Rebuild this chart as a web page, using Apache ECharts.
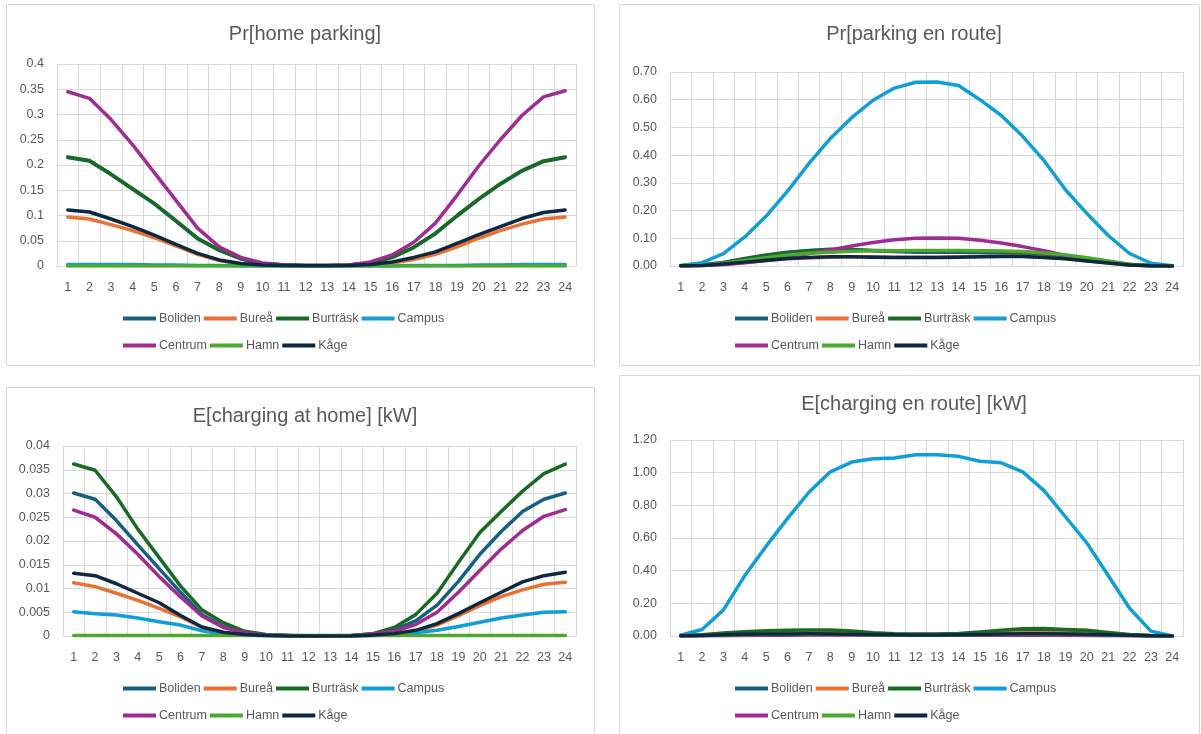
<!DOCTYPE html>
<html>
<head>
<meta charset="utf-8">
<script src="https://cdn.jsdelivr.net/npm/echarts@6/dist/echarts.min.js"></script>
<style>
  html, body { margin: 0; padding: 0; background: #fff; }
  #chart { width: 1201px; height: 734px; }
</style>
</head>
<body>
<div id="chart"></div>
<script>
// Hours of the day
const hours = ['1','2','3','4','5','6','7','8','9','10','11','12','13','14','15','16','17','18','19','20','21','22','23','24'];
const areas = ['Boliden', 'Bureå', 'Burträsk', 'Campus', 'Centrum', 'Hamn', 'Kåge'];

// Pr[home parking]
const homeParking = {
  'Boliden':  [0.215,0.208,0.181,0.152,0.123,0.089,0.054,0.031,0.014,0.005,0.002,0.001,0.001,0.002,0.006,0.017,0.037,0.064,0.099,0.132,0.162,0.188,0.207,0.215],
  'Bureå':    [0.097,0.093,0.082,0.070,0.056,0.040,0.023,0.011,0.004,0.002,0.001,0.0005,0.0005,0.001,0.002,0.006,0.013,0.023,0.038,0.055,0.070,0.083,0.093,0.097],
  'Burträsk': [0.216,0.209,0.182,0.153,0.124,0.090,0.055,0.032,0.015,0.005,0.002,0.001,0.001,0.002,0.006,0.017,0.037,0.065,0.100,0.133,0.163,0.189,0.208,0.216],
  'Campus':   [0.003,0.003,0.003,0.003,0.002,0.002,0.001,0.001,0,0,0,0,0,0,0,0,0.001,0.001,0.001,0.002,0.002,0.003,0.003,0.003],
  'Centrum':  [0.345,0.332,0.290,0.240,0.185,0.130,0.075,0.038,0.017,0.006,0.002,0.001,0.001,0.002,0.008,0.022,0.047,0.085,0.140,0.198,0.250,0.298,0.335,0.347],
  'Hamn':     [0,0,0,0,0,0,0,0,0,0,0,0,0,0,0,0,0,0,0,0,0,0,0,0],
  'Kåge':     [0.111,0.107,0.093,0.078,0.061,0.043,0.025,0.012,0.005,0.002,0.001,0.0005,0.0005,0.001,0.003,0.008,0.017,0.028,0.045,0.062,0.078,0.094,0.106,0.111]
};

// Pr[parking en route]
const routeParking = {
  'Boliden':  [0.001,0.004,0.013,0.027,0.040,0.050,0.056,0.060,0.060,0.055,0.052,0.050,0.050,0.050,0.049,0.047,0.045,0.040,0.034,0.025,0.014,0.005,0.001,0],
  'Bureå':    [0.001,0.002,0.006,0.013,0.020,0.026,0.030,0.032,0.033,0.033,0.032,0.032,0.032,0.033,0.034,0.035,0.035,0.032,0.027,0.019,0.011,0.004,0.001,0],
  'Burträsk': [0.001,0.004,0.012,0.025,0.038,0.048,0.055,0.058,0.058,0.056,0.055,0.055,0.055,0.055,0.053,0.052,0.050,0.045,0.038,0.028,0.016,0.005,0.001,0],
  'Campus':   [0.002,0.012,0.045,0.105,0.180,0.270,0.370,0.460,0.535,0.598,0.642,0.663,0.664,0.651,0.600,0.543,0.468,0.380,0.275,0.190,0.110,0.045,0.010,0.001],
  'Centrum':  [0.001,0.002,0.005,0.012,0.020,0.030,0.045,0.058,0.072,0.085,0.095,0.100,0.101,0.100,0.093,0.083,0.070,0.055,0.038,0.025,0.013,0.004,0.001,0],
  'Hamn':     [0.001,0.003,0.010,0.020,0.030,0.040,0.046,0.050,0.053,0.055,0.055,0.056,0.056,0.056,0.055,0.054,0.052,0.047,0.040,0.030,0.018,0.006,0.001,0],
  'Kåge':     [0.001,0.002,0.007,0.014,0.021,0.027,0.031,0.033,0.033,0.032,0.031,0.031,0.031,0.032,0.033,0.034,0.034,0.031,0.026,0.018,0.011,0.004,0.001,0]
};

// E[charging at home] [kW]
const homeCharging = {
  'Boliden':  [0.0301,0.0288,0.0243,0.0192,0.0142,0.0092,0.0045,0.0020,0.0008,0.0002,0.0001,0,0,0.0001,0.0004,0.0013,0.0032,0.0065,0.0115,0.0172,0.0220,0.0262,0.0288,0.0301],
  'Bureå':    [0.0112,0.0104,0.0090,0.0075,0.0058,0.0040,0.0018,0.0007,0.0002,0.0001,0,0,0,0,0.0001,0.0004,0.0010,0.0023,0.0043,0.0064,0.0083,0.0097,0.0109,0.0113],
  'Burträsk': [0.0362,0.0349,0.0293,0.0225,0.0165,0.0105,0.0055,0.0028,0.0010,0.0003,0.0001,0,0,0.0001,0.0005,0.0018,0.0045,0.0090,0.0155,0.0218,0.0262,0.0305,0.0342,0.0362],
  'Campus':   [0.0051,0.0047,0.0044,0.0038,0.0030,0.0023,0.0011,0.0004,0.0002,0.0001,0,0,0,0,0.0001,0.0003,0.0007,0.0012,0.0020,0.0029,0.0038,0.0044,0.0050,0.0051],
  'Centrum':  [0.0265,0.0250,0.0215,0.0172,0.0125,0.0082,0.0042,0.0018,0.0007,0.0002,0.0001,0,0,0.0001,0.0004,0.0010,0.0024,0.0050,0.0092,0.0138,0.0183,0.0222,0.0252,0.0266],
  'Hamn':     [0.0001,0.0001,0.0001,0.0001,0.0001,0.0001,0.0001,0.0001,0.0001,0.0001,0.0001,0.0001,0.0001,0.0001,0.0001,0.0001,0.0001,0.0001,0.0001,0.0001,0.0001,0.0001,0.0001,0.0001],
  'Kåge':     [0.0132,0.0127,0.0110,0.0090,0.0070,0.0043,0.0019,0.0008,0.0003,0.0001,0,0,0,0,0.0002,0.0005,0.0012,0.0026,0.0047,0.0070,0.0092,0.0114,0.0127,0.0134]
};

// E[charging en route] [kW]
const routeCharging = {
  'Boliden':  [0.002,0.005,0.012,0.017,0.020,0.022,0.023,0.022,0.019,0.014,0.010,0.009,0.009,0.011,0.016,0.022,0.027,0.028,0.025,0.021,0.014,0.006,0.002,0],
  'Bureå':    [0.002,0.004,0.010,0.015,0.018,0.020,0.021,0.020,0.017,0.013,0.009,0.008,0.008,0.010,0.014,0.018,0.020,0.020,0.018,0.015,0.010,0.005,0.002,0],
  'Burträsk': [0.003,0.008,0.018,0.026,0.032,0.035,0.037,0.036,0.030,0.020,0.014,0.012,0.012,0.015,0.025,0.036,0.045,0.046,0.040,0.035,0.022,0.009,0.003,0],
  'Campus':   [0.005,0.040,0.160,0.370,0.550,0.720,0.880,1.005,1.065,1.085,1.090,1.110,1.110,1.100,1.070,1.060,1.005,0.890,0.730,0.570,0.370,0.170,0.030,0],
  'Centrum':  [0,0.001,0.002,0.003,0.004,0.005,0.006,0.006,0.006,0.005,0.004,0.004,0.004,0.004,0.004,0.004,0.004,0.004,0.004,0.003,0.002,0.001,0,0],
  'Hamn':     [0.001,0.003,0.006,0.008,0.010,0.011,0.011,0.011,0.010,0.008,0.006,0.006,0.006,0.007,0.009,0.011,0.012,0.012,0.011,0.009,0.006,0.003,0.001,0],
  'Kåge':     [0.001,0.003,0.007,0.010,0.012,0.013,0.014,0.013,0.011,0.009,0.007,0.006,0.006,0.007,0.009,0.012,0.014,0.014,0.013,0.011,0.008,0.004,0.001,0]
};

const colors = {
  'Boliden': '#156082', 'Bureå': '#E97132', 'Burträsk': '#196B24', 'Campus': '#0F9ED5',
  'Centrum': '#A02B93', 'Hamn': '#4EA72E', 'Kåge': '#0E2841'
};

const FONT = '"Liberation Sans", "DejaVu Sans", sans-serif';
const TEXT = '#595959';
const GRIDLINE = '#d9d9d9';

// Panel frames and plot areas
const panels = [
  { title: 'Pr[home parking]',          data: homeParking,   box: [6, 4, 588, 361],   grid: [57, 64, 519, 202],  max: 0.4,  step: 0.05,  fmt: v => String(+v.toFixed(3)),  titleY: 19,  legendX: 123, legendY: 312 },
  { title: 'Pr[parking en route]',      data: routeParking,  box: [619, 4, 580, 361], grid: [670, 72, 513, 194], max: 0.7,  step: 0.1,   fmt: v => v.toFixed(2),             titleY: 19,  legendX: 735, legendY: 312 },
  { title: 'E[charging at home] [kW]',  data: homeCharging,  box: [6, 387, 588, 360], grid: [63, 446, 513, 190], max: 0.04, step: 0.005, fmt: v => String(+v.toFixed(4)),  titleY: 401, legendX: 123, legendY: 682 },
  { title: 'E[charging en route] [kW]', data: routeCharging, box: [619, 375, 580, 370], grid: [670, 440, 513, 196], max: 1.2, step: 0.2,  fmt: v => v.toFixed(2),             titleY: 389, legendX: 735, legendY: 682 }
];

const option = {
  animation: false,
  backgroundColor: '#ffffff',
  textStyle: { fontFamily: FONT },
  title: [], grid: [], xAxis: [], yAxis: [], legend: [], series: [],
  graphic: []
};

panels.forEach((p, i) => {
  option.graphic.push({
    type: 'rect', silent: true, z: -1,
    shape: { x: p.box[0] + 0.5, y: p.box[1] + 0.5, width: p.box[2], height: p.box[3] },
    style: { fill: '#fff', stroke: GRIDLINE, lineWidth: 1 }
  });
  option.title.push({
    text: p.title,
    left: p.box[0] + p.box[2] / 2, top: p.titleY, textAlign: 'center',
    textStyle: { fontFamily: FONT, fontSize: 20, fontWeight: 'normal', color: TEXT }
  });
  option.grid.push({ left: p.grid[0], top: p.grid[1], width: p.grid[2], height: p.grid[3], containLabel: false });
  option.xAxis.push({
    type: 'category', gridIndex: i, data: hours, boundaryGap: true,
    axisLine: { show: true, lineStyle: { color: GRIDLINE, width: 1 } },
    axisTick: { show: false },
    splitLine: { show: true, interval: 0, lineStyle: { color: GRIDLINE, width: 1 } },
    axisLabel: { color: TEXT, fontSize: 12.5, fontFamily: FONT, margin: 15, interval: 0 }
  });
  option.yAxis.push({
    type: 'value', gridIndex: i, min: 0, max: p.max, interval: p.step,
    axisLine: { show: false }, axisTick: { show: false },
    splitLine: { show: true, lineStyle: { color: GRIDLINE, width: 1 } },
    axisLabel: { color: TEXT, fontSize: 12.5, fontFamily: FONT, margin: 13, formatter: p.fmt }
  });
  const legendBase = {
    orient: 'horizontal', itemWidth: 33, itemHeight: 4, itemGap: 3, padding: 0,
    icon: 'rect',
    textStyle: { color: TEXT, fontSize: 12.5, fontFamily: FONT, width: 50, padding: [0, 0, 0, -2] },
    selectedMode: false
  };
  option.legend.push(Object.assign({}, legendBase, { left: p.legendX, top: p.legendY, data: areas.slice(0, 4) }));
  option.legend.push(Object.assign({}, legendBase, { left: p.legendX, top: p.legendY + 27, data: areas.slice(4) }));
  areas.forEach(name => {
    option.series.push({
      name: name, type: 'line', xAxisIndex: i, yAxisIndex: i,
      data: p.data[name], symbol: 'none', smooth: false,
      lineStyle: { color: colors[name], width: 3.5, cap: 'round', join: 'round' },
      itemStyle: { color: colors[name] }
    });
  });
});

const chart = echarts.init(document.getElementById('chart'), null, { renderer: 'canvas' });
chart.setOption(option);
</script>
</body>
</html>
